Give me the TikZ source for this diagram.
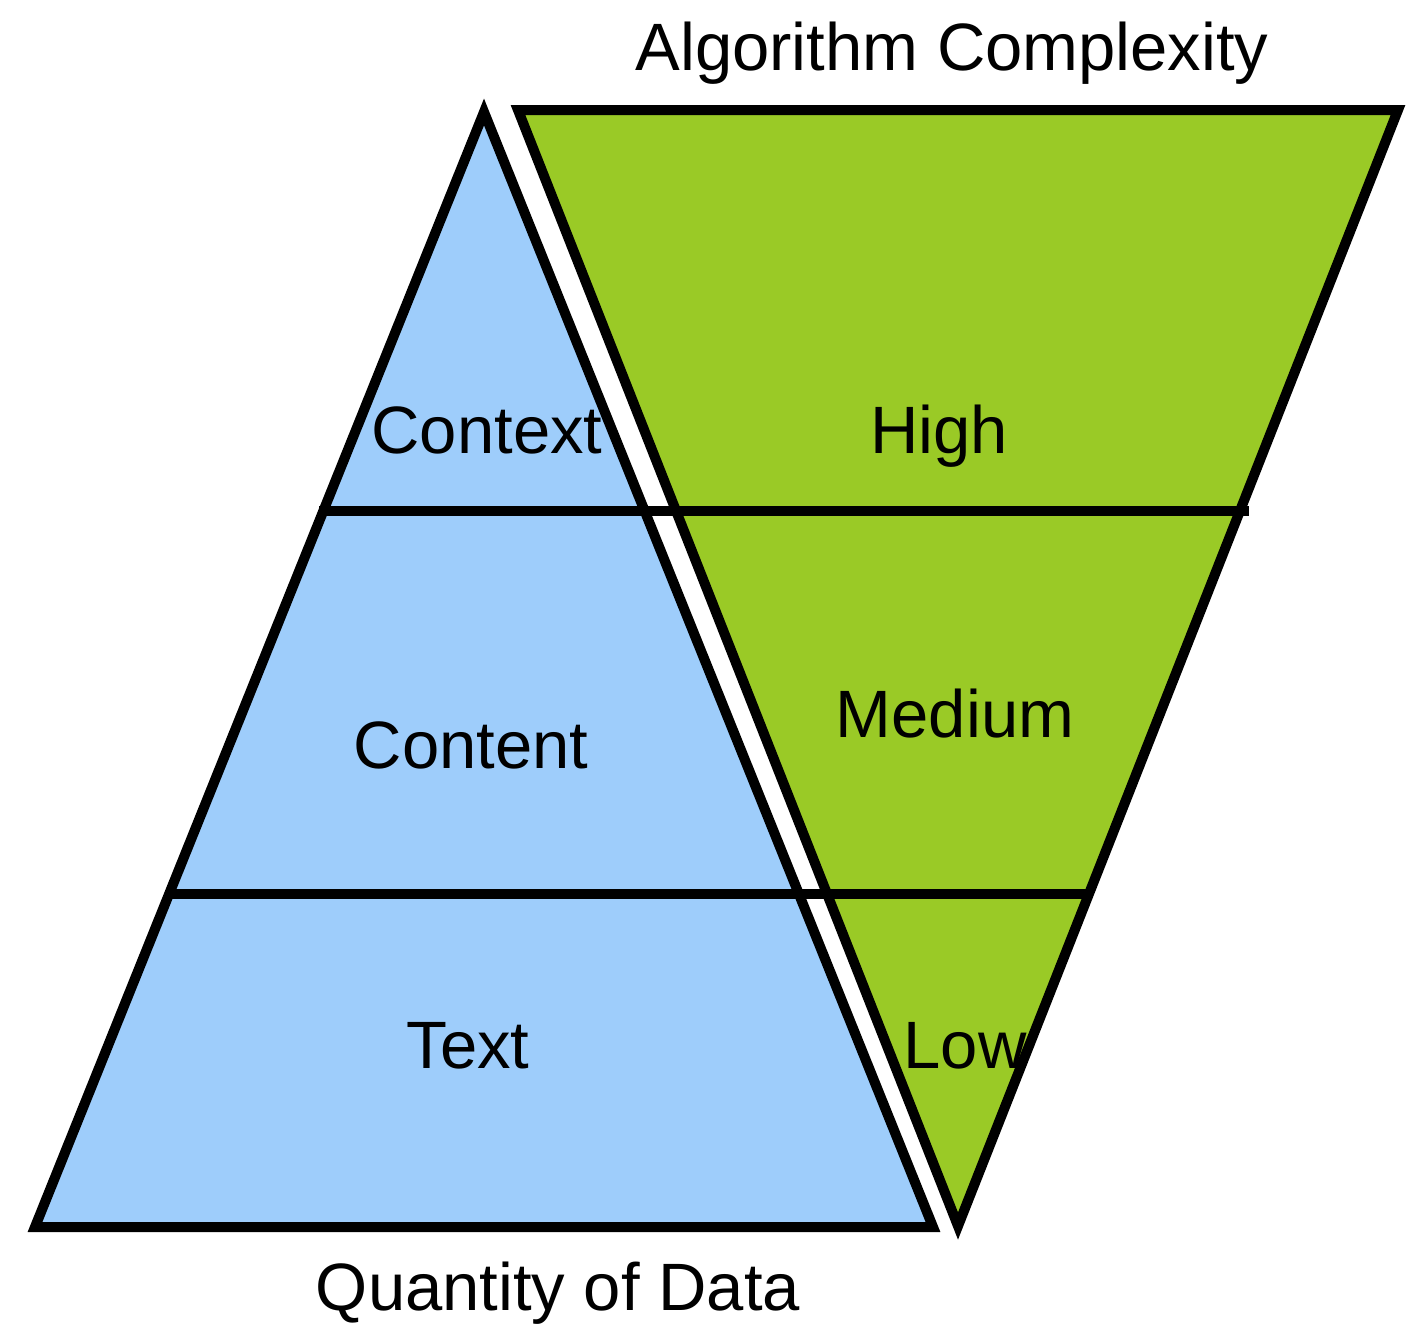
\documentclass[tikz,border=0pt]{standalone}
\usepackage{fontspec}
\setmainfont{Liberation Sans}
\definecolor{pyrblue}{RGB}{158,205,251}
\definecolor{pyrgreen}{RGB}{154,202,38}
\begin{document}
\begin{tikzpicture}[x=1pt,y=-1pt,
  tri/.style={draw=black,line width=10pt,line join=miter},
  sep/.style={draw=black,line width=10pt},
  lbl/.style={inner sep=0pt,anchor=base,font=\fontsize{67}{80}\selectfont}]
\useasboundingbox (0,0) rectangle (1425,1339);
% blue pyramid
\path[tri,fill=pyrblue] (484,112) -- (933,1227) -- (35,1227) -- cycle;
% green inverted pyramid
\path[tri,fill=pyrgreen] (518,110) -- (1398,110) -- (958,1226) -- cycle;
% separators
\coordinate (s1a) at (319,511);
\coordinate (s1b) at (1249,511);
\coordinate (s2a) at (166,894);
\coordinate (s2b) at (1086,894);
\draw[sep] (s1a) -- (s1b);
\draw[sep] (s2a) -- (s2b);
% labels
\node[lbl] (title) at (952,70) {Algorithm Complexity};
\node[lbl] (context) at (487,453) {Context};
\node[lbl] (high) at (939,453) {High};
\node[lbl] (content) at (471,768) {Content};
\node[lbl] (medium) at (955,737) {Medium};
\node[lbl] (text) at (468,1068) {Text};
\node[lbl] (low) at (965,1068) {Low};
\node[lbl] (qty) at (558,1310) {Quantity of Data};
\end{tikzpicture}
\end{document}
